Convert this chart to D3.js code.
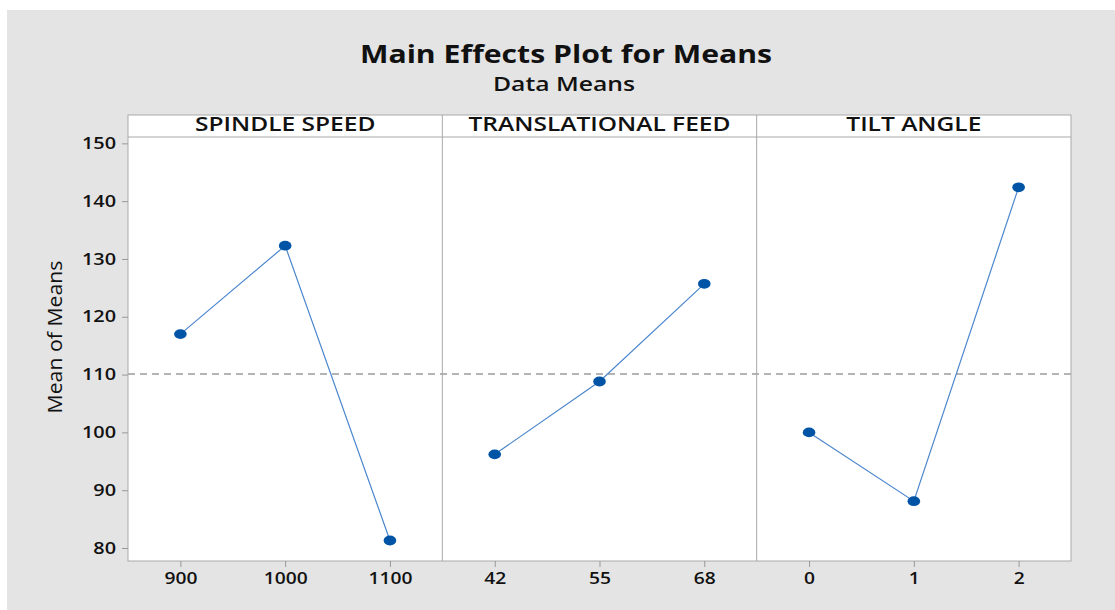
<!DOCTYPE html>
<html>
<head>
<meta charset="utf-8">
<script src="https://cdn.jsdelivr.net/npm/d3@7"></script>
<style>
  body { margin: 0; background: #ffffff; }
  svg { display: block; font-family: 'Open Sans', 'Noto Sans', sans-serif; }
</style>
</head>
<body>
<svg id="canvas"></svg>
<script>
const factors = ['SPINDLE SPEED', 'TRANSLATIONAL FEED', 'TILT ANGLE']
const spindleLevels = ['900', '1000', '1100']
const spindleMeans = [117.0, 132.3, 81.3]
const feedLevels = ['42', '55', '68']
const feedMeans = [96.2, 108.8, 125.7]
const tiltLevels = ['0', '1', '2']
const tiltMeans = [100.0, 88.1, 142.4]
const yTicks = [80, 90, 100, 110, 120, 130, 140, 150]
const grandMean = 110.1
const titleText = 'Main Effects Plot for Means'
const subtitleText = 'Data Means'
const yLabel = 'Mean of Means'

const panels = [
  { name: factors[0], levels: spindleLevels, means: spindleMeans },
  { name: factors[1], levels: feedLevels, means: feedMeans },
  { name: factors[2], levels: tiltLevels, means: tiltMeans }
]

const w = 1115
const h = 610
const plotLeft = 128
const plotRight = 1071
const plotTop = 137
const plotBottom = 561
const stripTop = 115
const panelW = (plotRight - plotLeft) / panels.length
const frameColor = '#a9a9a9'

const canvas = d3.select('#canvas').attr('width', w).attr('height', h)

// widen text a bit, the original picture is stretched sideways
const stretch = (sel, k) => {
  sel.each(function () {
    const len = this.getComputedTextLength()
    d3.select(this).attr('textLength', len * k).attr('lengthAdjust', 'spacingAndGlyphs')
  })
}

const y = d3.scaleLinear().domain([77.75, 151.1]).range([plotBottom, plotTop])

const generateBackground = () => {
  canvas.append('rect')
        .attr('x', 7).attr('y', 10)
        .attr('width', w - 7).attr('height', h - 10)
        .attr('fill', '#e4e4e4')
  canvas.append('rect')
        .attr('x', plotLeft).attr('y', stripTop)
        .attr('width', plotRight - plotLeft).attr('height', plotBottom - stripTop)
        .attr('fill', '#ffffff')
}

const generateTitles = () => {
  canvas.append('text')
        .attr('x', 566).attr('y', 63)
        .attr('text-anchor', 'middle')
        .attr('font-size', 25).attr('font-weight', 700)
        .attr('fill', '#111')
        .text(titleText)
        .attr('textLength', 412).attr('lengthAdjust', 'spacingAndGlyphs')
  canvas.append('text')
        .attr('x', 564).attr('y', 91)
        .attr('text-anchor', 'middle')
        .attr('font-size', 20).attr('font-weight', 600)
        .attr('fill', '#111')
        .text(subtitleText)
        .attr('textLength', 142).attr('lengthAdjust', 'spacingAndGlyphs')
  canvas.append('text')
        .attr('transform', `translate(62,337) rotate(-90)`)
        .attr('text-anchor', 'middle')
        .attr('font-size', 20).attr('font-weight', 400)
        .attr('fill', '#111')
        .text(yLabel)
        .attr('textLength', 153).attr('lengthAdjust', 'spacingAndGlyphs')
}

const styleTicks = (axis, k) => {
  axis.attr('font-family', null).attr('font-size', null)
  axis.select('.domain').remove()
  axis.selectAll('line').attr('stroke', '#999')
  axis.selectAll('text')
      .attr('font-size', 16).attr('font-weight', 600)
      .attr('fill', '#111')
      .call(stretch, k)
}

const generateYAxis = () => {
  const axis = canvas.append('g')
                     .attr('transform', `translate(${plotLeft},0)`)
                     .call(d3.axisLeft(y).tickValues(yTicks).tickSize(6).tickPadding(6))
  styleTicks(axis, 1.24)
}

const generatePanels = () => {
  panels.forEach((p, i) => {
    const x0 = plotLeft + i * panelW
    const x = d3.scalePoint().domain(p.levels).range([x0, x0 + panelW]).padding(0.5)

    // strip
    canvas.append('text')
          .attr('x', x0 + panelW / 2).attr('y', 131)
          .attr('text-anchor', 'middle')
          .attr('font-size', 19).attr('font-weight', 600)
          .attr('fill', '#111')
          .text(p.name)
          .call(stretch, 1.29)

    // x axis
    const axis = canvas.append('g')
                       .attr('transform', `translate(0,${plotBottom})`)
                       .call(d3.axisBottom(x).tickSize(6).tickPadding(6))
    styleTicks(axis, 1.2)

    const pts = p.levels.map((l, j) => [x(l), y(p.means[j])])
    canvas.append('path')
          .attr('d', d3.line()(pts))
          .attr('fill', 'none')
          .attr('stroke', '#4a86cc')
          .attr('stroke-width', 1.2)
    canvas.append('g')
          .selectAll('ellipse')
          .data(pts)
          .enter()
          .append('ellipse')
          .attr('cx', d => d[0])
          .attr('cy', d => d[1])
          .attr('rx', 6.3)
          .attr('ry', 4.9)
          .attr('fill', '#0054a6')
  })
}

const generateFrame = () => {
  canvas.append('line')
        .attr('x1', plotLeft).attr('x2', plotRight)
        .attr('y1', y(grandMean)).attr('y2', y(grandMean))
        .attr('stroke', '#9c9c9c').attr('stroke-width', 1.6)
        .attr('stroke-dasharray', '7,5')
  canvas.append('rect')
        .attr('x', plotLeft).attr('y', stripTop)
        .attr('width', plotRight - plotLeft).attr('height', plotBottom - stripTop)
        .attr('fill', 'none').attr('stroke', frameColor)
  canvas.append('line')
        .attr('x1', plotLeft).attr('x2', plotRight)
        .attr('y1', plotTop).attr('y2', plotTop)
        .attr('stroke', frameColor)
  d3.range(1, panels.length).forEach(i => {
    canvas.append('line')
          .attr('x1', plotLeft + i * panelW).attr('x2', plotLeft + i * panelW)
          .attr('y1', stripTop).attr('y2', plotBottom)
          .attr('stroke', frameColor)
  })
}

generateBackground()
generateTitles()
generateFrame()
generateYAxis()
generatePanels()
</script>
</body>
</html>
